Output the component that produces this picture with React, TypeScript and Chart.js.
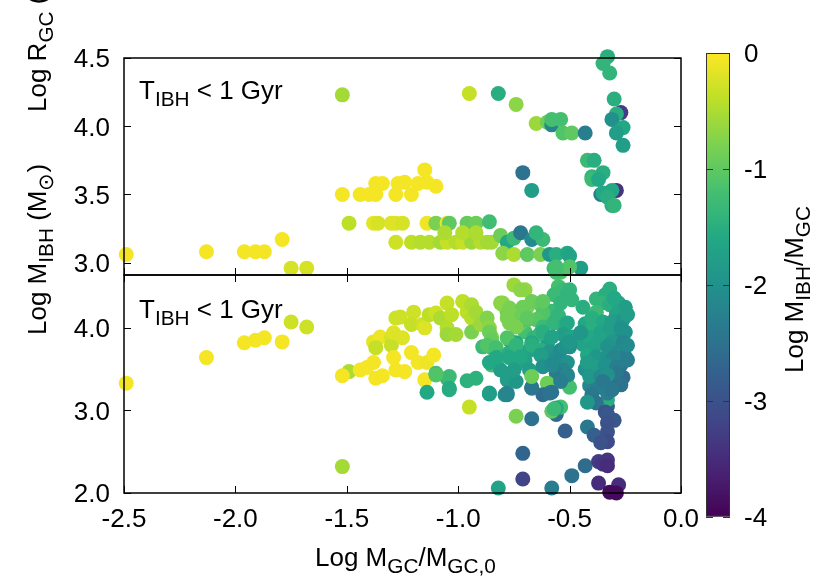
import { useEffect, useRef } from "react";
import { Chart, registerables } from "chart.js";
Chart.register(...registerables);

// ---------- data ----------
const xTicks = [-2.5, -2.0, -1.5, -1.0, -0.5, 0.0];
const topYTicks = [3.0, 3.5, 4.0, 4.5];
const botYTicks = [2.0, 3.0, 4.0];
const cbTicks = [0, -1, -2, -3, -4];

const topX = [
  -2.49,-2.13,-1.96,-1.91,-1.87,-1.79,-1.75,-1.68,-1.52,-1.52,
  -1.49,-1.44,-1.40,-1.37,-1.37,-1.34,-1.38,-1.36,-1.30,-1.28,
  -1.25,-1.28,-1.28,-1.27,-1.24,-1.21,-1.18,-1.15,-1.14,-1.10,
  -1.14,-1.10,-1.05,-1.04,-0.96,-0.92,-0.86,-1.21,-1.17,-1.13,
  -1.08,-1.05,-1.01,-0.98,-0.94,-0.90,-0.87,-0.85,-0.81,-0.78,
  -0.80,-0.95,-0.82,-0.74,-0.65,-0.60,-0.58,-0.58,-0.54,-0.53,
  -0.49,-0.43,-0.71,-0.67,-0.33,-0.35,-0.32,-0.30,-0.27,-0.29,
  -0.31,-0.26,-0.29,-0.26,-0.42,-0.39,-0.40,-0.35,-0.40,-0.37,
  -0.29,-0.31,-0.36,-0.35,-0.33,-0.31,-0.30,-0.75,-0.72,-0.67,
  -0.62,-0.65,-0.75,-0.69,-0.63,-0.59,-0.56,-0.51,-0.50,-0.45,
  -0.57,-0.54,-0.50,-0.56,-1.06,-0.98,-0.92,
];
const topY = [
  3.06,3.08,3.08,3.08,3.08,3.17,2.96,2.96,4.23,3.50,
  3.29,3.50,3.50,3.50,3.58,3.58,3.29,3.29,3.29,3.29,
  3.29,3.15,3.50,3.58,3.59,3.50,3.58,3.68,3.59,3.56,
  3.29,3.29,3.29,3.29,3.29,3.29,3.30,3.15,3.15,3.15,
  3.15,3.15,3.15,3.15,3.15,3.15,3.15,3.15,3.20,3.15,
  3.07,4.24,4.24,4.16,4.02,4.03,4.01,4.05,4.05,3.95,
  3.95,3.95,3.66,3.53,4.51,4.46,4.39,4.20,4.10,4.09,
  4.05,3.99,3.95,3.86,3.75,3.75,3.63,3.66,3.61,3.61,
  3.53,3.53,3.50,3.51,3.48,3.42,3.42,3.18,3.22,3.17,
  3.17,3.22,3.06,3.06,3.06,3.06,3.06,3.07,3.05,2.96,
  2.96,2.93,2.97,2.97,3.22,3.22,3.22,
];
const topC = [
  -0.05,-0.05,-0.05,-0.05,-0.05,-0.05,-0.25,-0.25,-0.55,-0.05,
  -0.4,-0.05,-0.05,-0.05,-0.05,-0.05,-0.15,-0.25,-0.2,-0.2,
  -0.25,-0.3,-0.05,-0.05,-0.05,-0.05,-0.05,-0.05,-0.05,-0.05,
  -0.1,-0.8,-0.1,-1.0,-0.95,-0.9,-1.25,-0.4,-0.45,-0.45,
  -0.55,-0.35,-0.45,-0.35,-0.6,-0.45,-0.55,-0.55,-0.9,-1.6,
  -0.7,-0.35,-1.5,-0.7,-0.6,-0.9,-2.2,-1.2,-1.2,-1.1,
  -1.0,-2.3,-2.5,-1.8,-1.5,-1.4,-1.4,-1.5,-3.3,-1.5,
  -2.0,-1.6,-1.8,-1.8,-1.3,-1.5,-1.4,-1.5,-1.3,-1.6,
  -3.4,-1.6,-2.3,-1.6,-1.5,-1.5,-1.4,-1.3,-2.4,-2.1,
  -1.3,-1.4,-0.5,-1.0,-0.8,-1.9,-1.5,-1.6,-1.7,-1.8,
  -1.3,-1.1,-1.1,-1.2,-0.5,-0.45,-0.5,
];

const botX = [
  -0.44,-0.43,-0.44,-0.43,-0.41,-0.27,-0.27,-0.26,-0.30,-0.38,
  -0.34,-0.38,-0.33,-0.70,-0.66,-0.72,-0.60,-0.58,-0.55,-0.60,
  -0.70,
  -2.49,-2.13,-1.96,-1.91,-1.87,-1.79,-1.75,-1.68,-1.52,-1.49,
  -1.52,-1.44,-1.41,-1.38,-1.37,-1.34,-1.38,-1.35,-1.37,-1.30,
  -1.30,-1.29,-1.25,-1.28,-1.26,-1.29,-1.28,-1.24,-1.21,-1.18,
  -1.14,-1.11,-1.15,-1.20,-1.21,-1.16,-1.15,-1.13,-1.10,-1.08,
  -1.05,-1.05,-1.03,-1.05,-1.01,-0.98,-0.96,-0.94,-0.94,-0.92,
  -0.94,-0.90,-0.87,-0.86,-0.85,-0.89,-0.85,-0.85,-0.80,-0.78,
  -1.10,-1.05,-1.04,-1.14,-0.96,-0.92,-0.86,-0.79,-0.95,-0.75,
  -0.70,-0.72,-0.56,-0.55,-0.53,-0.50,-0.57,-0.54,-0.51,-0.49,
  -0.32,-0.81,-0.77,-0.74,-0.69,-0.67,-0.63,-0.62,-0.65,-0.69,
  -0.77,-0.74,-0.62,-0.63,-0.57,-0.52,-0.51,-0.53,-0.49,-0.45,
  -0.86,-0.85,-0.87,-0.83,-0.81,-0.77,-0.74,-0.77,-0.72,-0.68,
  -0.67,-0.63,-0.60,-0.59,-0.56,-0.54,-0.52,-0.50,-0.56,-0.51,
  -0.53,-0.51,-0.56,-0.54,-0.50,-0.60,-0.58,-0.62,-0.67,-0.77,
  -0.74,-0.81,-0.78,-0.86,-0.83,-0.78,-0.86,-1.04,-1.04,-1.10,
  -0.74,-0.67,-0.56,-0.58,-0.54,-0.52,-0.71,-0.71,-0.82,-0.58,
  -0.49,-0.43,-0.42,-0.39,-0.36,-0.32,-0.28,-0.25,-0.38,-0.29,
  -0.40,-0.35,-0.31,-0.26,-0.40,-0.36,-0.32,-0.27,-0.25,-0.41,
  -0.36,-0.31,-0.26,-0.39,-0.33,-0.28,-0.25,-0.42,-0.38,-0.33,
  -0.30,-0.42,-0.38,-0.34,-0.29,-0.29,-0.41,-0.36,-0.33,-0.27,
  -0.31,-0.36,-0.35,-0.40,-0.33,-0.38,-0.34,-0.45,-0.80,-0.77,
  -0.71,-0.62,-0.69,-0.78,-0.62,-0.58,-0.50,-0.78,-0.74,-0.67,
  -0.63,-0.72,-0.77,-0.78,-0.74,-0.68,-0.62,-0.58,-0.51,-0.54,
  -0.67,-0.59,-0.67,-0.78,-0.56,-0.57,-0.42,-0.33,-0.30,-0.33,
  -0.33,-0.33,-0.37,-0.35,-0.33,-0.33,-0.37,-0.28,-0.32,-0.29,
  -0.33,-0.31,-0.30,-0.24,-0.24,-0.24,-0.36,-0.75,
];
const botY = [
  4.25,4.05,3.80,3.50,3.30,3.90,3.55,3.40,3.35,4.35,
  4.40,3.35,3.05,3.95,3.88,4.05,4.15,4.20,4.15,3.80,
  3.60,
  3.33,3.64,3.82,3.85,3.88,3.83,4.07,4.01,2.32,3.47,
  3.42,3.49,3.52,3.58,3.39,3.42,3.83,3.89,3.76,3.88,
  3.79,3.94,3.88,4.12,4.13,3.64,3.49,3.47,3.70,3.58,
  3.58,3.67,3.37,4.19,4.04,4.04,4.00,4.16,4.18,4.12,
  4.00,4.30,4.16,3.92,3.92,4.32,4.19,4.28,4.12,4.19,
  3.95,4.04,4.12,4.00,3.89,3.77,3.76,3.55,4.28,4.19,
  3.45,3.39,3.25,3.22,3.36,3.39,3.21,3.19,3.04,4.52,
  4.46,4.46,4.67,4.50,4.46,4.46,4.40,4.30,4.42,4.34,
  4.47,4.30,4.18,4.12,4.25,4.32,4.28,4.18,4.10,4.10,
  4.06,4.01,4.01,3.94,4.06,4.04,4.06,3.92,3.89,3.94,
  3.95,3.85,3.79,3.76,3.65,3.85,3.82,3.70,3.70,3.73,
  3.82,3.73,3.61,3.71,3.65,3.73,3.77,3.77,3.58,3.58,
  3.49,3.41,3.45,3.37,3.28,3.33,3.22,3.19,3.28,3.41,
  3.55,3.49,3.37,3.58,3.64,3.19,3.20,3.41,3.27,3.43,
  2.93,2.90,2.95,2.99,3.04,2.75,2.48,2.17,2.06,2.06,
  2.21,2.33,2.80,2.70,4.30,4.28,4.30,4.25,4.19,4.16,
  4.12,4.07,4.07,4.10,3.98,3.95,3.98,4.00,3.95,3.88,
  3.88,3.83,3.82,3.77,3.77,3.71,3.65,3.67,3.65,3.64,
  3.64,3.58,3.53,3.55,3.52,3.45,3.41,3.41,3.43,3.31,
  3.25,3.28,3.35,3.19,3.13,3.09,2.98,3.94,4.30,4.24,
  4.25,4.32,4.12,4.12,3.95,3.89,3.83,3.88,3.79,3.79,
  3.67,3.65,3.64,3.43,3.35,3.49,3.53,3.55,3.43,3.35,
  3.27,3.21,3.41,3.21,3.03,3.02,3.10,2.95,2.88,2.85,
  2.74,2.62,2.38,2.35,2.40,2.33,2.12,2.10,2.01,2.00,
  3.21,3.25,4.36,4.16,3.79,3.61,2.61,3.49,
];
const botC = [
  -1.5,-1.6,-1.7,-2.0,-2.2,-2.1,-2.4,-2.6,-2.5,-1.4,
  -1.5,-2.3,-2.8,-1.2,-1.4,-1.0,-1.2,-1.3,-1.4,-1.8,
  -1.7,
  -0.05,-0.05,-0.05,-0.05,-0.05,-0.05,-0.3,-0.3,-0.55,-0.5,
  -0.05,-0.05,-0.05,-0.05,-0.05,-0.05,-0.15,-0.1,-0.35,-0.25,
  -0.35,-0.2,-0.2,-0.3,-0.3,-0.05,-0.05,-0.05,-0.05,-0.05,
  -0.1,-0.05,-0.05,-0.3,-0.35,-0.3,-0.2,-0.4,-0.3,-0.5,
  -0.45,-0.35,-0.4,-0.6,-0.55,-0.4,-0.4,-0.5,-0.45,-0.55,
  -0.8,-0.6,-0.75,-0.7,-0.75,-1.3,-1.3,-1.2,-0.8,-0.9,
  -1.25,-1.35,-1.5,-1.6,-1.45,-1.45,-1.75,-2.0,-0.35,-0.6,
  -0.65,-0.7,-1.2,-1.2,-1.3,-1.4,-1.3,-1.4,-1.4,-1.4,
  -1.5,-0.7,-0.75,-0.9,-0.8,-0.9,-0.95,-1.1,-1.05,-1.1,
  -0.8,-0.8,-1.3,-1.35,-1.4,-1.5,-1.6,-1.8,-1.7,-1.9,
  -0.9,-0.95,-1.1,-1.2,-1.3,-1.5,-1.6,-1.5,-1.6,-1.7,
  -1.6,-1.5,-1.9,-1.9,-2.0,-2.1,-2.0,-2.0,-2.1,-2.0,
  -2.2,-2.3,-2.3,-2.4,-1.2,-0.9,-2.5,-2.6,-2.5,-1.7,
  -1.7,-1.8,-1.8,-1.6,-1.6,-2.2,-1.8,-1.3,-1.55,-1.1,
  -0.8,-2.5,-2.6,-1.0,-1.2,-2.8,-2.7,-3.2,-1.7,-2.3,
  -2.5,-2.6,-2.4,-2.8,-1.4,-1.5,-1.6,-1.8,-1.3,-1.7,
  -1.5,-1.6,-1.8,-1.9,-1.5,-1.7,-1.8,-2.0,-2.0,-1.6,
  -1.7,-1.9,-2.2,-1.7,-2.0,-2.1,-2.3,-1.6,-1.9,-2.0,
  -2.2,-1.8,-1.8,-2.0,-2.3,-2.4,-1.9,-2.1,-2.0,-2.5,
  -2.6,-2.3,-2.4,-2.4,-1.5,-2.5,-3.0,-1.9,-0.7,-0.8,
  -0.9,-1.0,-1.0,-0.8,-1.5,-1.7,-1.9,-1.1,-1.4,-1.5,
  -1.8,-1.6,-1.6,-1.8,-1.9,-1.8,-2.0,-2.1,-2.2,-2.3,
  -2.4,-2.5,-0.9,-2.2,-1.6,-1.3,-1.9,-2.9,-2.9,-3.0,
  -3.0,-3.1,-3.3,-3.4,-3.4,-3.5,-3.5,-3.5,-3.9,-3.9,
  -2.3,-2.4,-1.6,-1.8,-2.1,-2.3,-3.0,-1.8,
];

// ---------- styling helpers ----------
const FONT = '"Liberation Sans", Arial, Helvetica, sans-serif';
const FS = 26;
const W = 830;
const H = 581;

const VIRIDIS = [
  "#440154", "#482475", "#414487", "#355f8d", "#2a788e", "#21918c",
  "#22a884", "#44bf70", "#7ad151", "#bddf26", "#fde725",
];
function hexToRgb(h: string) {
  return [parseInt(h.slice(1, 3), 16), parseInt(h.slice(3, 5), 16), parseInt(h.slice(5, 7), 16)];
}
function viridis(t: number) {
  const tt = Math.max(0, Math.min(1, t));
  const p = tt * 10;
  const i = Math.min(9, Math.floor(p));
  const f = p - i;
  const a = hexToRgb(VIRIDIS[i]);
  const b = hexToRgb(VIRIDIS[i + 1]);
  const c = a.map((v, k) => Math.round(v + (b[k] - v) * f));
  return `rgb(${c[0]},${c[1]},${c[2]})`;
}
const CMIN = -4;
const CMAX = 0;
const colorOf = (c: number) => viridis((c - CMIN) / (CMAX - CMIN));

type Seg = [string, boolean];
function drawRich(ctx: CanvasRenderingContext2D, segs: Seg[], x: number, y: number) {
  let cx = x;
  ctx.textAlign = "left";
  ctx.textBaseline = "alphabetic";
  for (const [t, sub] of segs) {
    ctx.font = `${sub ? FS * 0.8 : FS}px ${FONT}`;
    ctx.fillText(t, cx, sub ? y + FS * 0.28 : y);
    cx += ctx.measureText(t).width;
  }
}
function drawRichRot(ctx: CanvasRenderingContext2D, segs: Seg[], x: number, y: number) {
  ctx.save();
  ctx.translate(x, y);
  ctx.rotate(-Math.PI / 2);
  drawRich(ctx, segs, 0, 0);
  ctx.restore();
}

const TICK = 7;

function panelPlugin(isBottom: boolean, yTicks: number[]) {
  return {
    id: "panel" + (isBottom ? "B" : "T"),
    afterDatasetsDraw(chart: any) {
      const ctx: CanvasRenderingContext2D = chart.ctx;
      const { left, top, right, bottom } = chart.chartArea;
      const xs = chart.scales.x;
      const ys = chart.scales.y;
      ctx.save();
      ctx.strokeStyle = "#000";
      ctx.lineWidth = 1;
      ctx.beginPath();
      for (const v of xTicks) {
        const px = Math.round(xs.getPixelForValue(v)) + 0.5;
        ctx.moveTo(px, bottom);
        ctx.lineTo(px, bottom - TICK);
        if (isBottom) {
          ctx.moveTo(px, top);
          ctx.lineTo(px, top + TICK);
        }
      }
      for (const v of yTicks) {
        const py = Math.round(ys.getPixelForValue(v)) + 0.5;
        ctx.moveTo(left, py);
        ctx.lineTo(left + TICK, py);
        ctx.moveTo(right, py);
        ctx.lineTo(right - TICK, py);
      }
      ctx.stroke();
      ctx.lineWidth = 1.5;
      ctx.strokeRect(left, top, right - left, bottom - top);

      ctx.fillStyle = "#000";
      ctx.font = `${FS}px ${FONT}`;
      ctx.textAlign = "right";
      ctx.textBaseline = "alphabetic";
      for (const v of yTicks) {
        const py = ys.getPixelForValue(v);
        ctx.fillText(v.toFixed(1), left - 14, py + 9.3);
      }
      if (isBottom) {
        ctx.textAlign = "center";
        for (const v of xTicks) {
          const px = xs.getPixelForValue(v);
          ctx.fillText(v.toFixed(1), px, bottom + 34);
        }
      }
      // panel annotation
      drawRich(ctx, [["T", false], ["IBH", true], [" < 1 Gyr", false]], left + 15, top + (isBottom ? 43 : 41));

      if (isBottom) {
        // axis titles
        drawRich(ctx, [["Log M", false], ["GC", true], ["/M", false], ["GC,0", true]], 315, 566);
        drawRichRot(ctx, [["Log M", false], ["IBH", true], [" (M", false], ["\u2299", true], [")", false]], 46, 335);
        drawRichRot(ctx, [["Log R", false], ["GC", true], [" (kpc)", false]], 46, 112);

        // colour bar
        const cbL = 706, cbR = 730, cbT = 53, cbB = 516.5;
        const cy = (c: number) => cbT + ((CMAX - c) / (CMAX - CMIN)) * (cbB - cbT);
        const g = ctx.createLinearGradient(0, cbB, 0, cbT);
        for (let i = 0; i <= 40; i++) {
          g.addColorStop(i / 40, viridis(i / 40));
        }
        ctx.fillStyle = g;
        ctx.fillRect(cbL, cbT, cbR - cbL, cbB - cbT);
        ctx.strokeStyle = "#333";
        ctx.lineWidth = 1;
        ctx.strokeRect(cbL + 0.5, cbT + 0.5, cbR - cbL - 1, cbB - cbT - 1);
        ctx.beginPath();
        for (const v of cbTicks) {
          const py = Math.round(cy(v)) + 0.5;
          ctx.moveTo(cbL, py);
          ctx.lineTo(cbL + TICK, py);
          ctx.moveTo(cbR, py);
          ctx.lineTo(cbR - TICK, py);
        }
        ctx.stroke();
        ctx.fillStyle = "#000";
        ctx.font = `${FS}px ${FONT}`;
        ctx.textAlign = "left";
        for (const v of cbTicks) {
          ctx.fillText(String(v), 744, cy(v) + 9.3);
        }
        drawRichRot(ctx, [["Log M", false], ["IBH", true], ["/M", false], ["GC", true]], 803, 373);
      }
      ctx.restore();
    },
  };
}

function makeConfig(xs: number[], ys: number[], cs: number[], yMin: number, yMax: number, yTicks: number[], pad: any, isBottom: boolean) {
  return {
    type: "scatter" as const,
    data: {
      datasets: [
        {
          data: xs.map((x, i) => ({ x, y: ys[i] })),
          backgroundColor: cs.map(colorOf),
          pointRadius: 7.5,
          pointHoverRadius: 7.5,
          pointBorderWidth: 0,
          borderWidth: 0,
          clip: false as any,
        },
      ],
    },
    options: {
      responsive: false,
      animation: false as const,
      devicePixelRatio: 1,
      events: [] as any[],
      layout: { padding: pad },
      plugins: { legend: { display: false }, tooltip: { enabled: false } },
      scales: {
        x: { type: "linear" as const, min: -2.5, max: 0, display: false },
        y: { type: "linear" as const, min: yMin, max: yMax, display: false },
      },
    },
    plugins: [panelPlugin(isBottom, yTicks)],
  };
}

export default function App() {
  const topRef = useRef<HTMLCanvasElement>(null);
  const botRef = useRef<HTMLCanvasElement>(null);
  useEffect(() => {
    const c1 = new Chart(
      topRef.current!,
      makeConfig(topX, topY, topC, 2.91, 4.5, topYTicks, { left: 124, top: 58, right: W - 681, bottom: H - 275 }, false) as any
    );
    const c2 = new Chart(
      botRef.current!,
      makeConfig(botX, botY, botC, 2.0, 4.64, botYTicks, { left: 124, top: 275, right: W - 681, bottom: H - 493 }, true) as any
    );
    return () => {
      c1.destroy();
      c2.destroy();
    };
  }, []);
  return (
    <div style={{ position: "absolute", left: 0, top: 0, width: W, height: H, background: "#fff", overflow: "hidden" }}>
      <canvas ref={topRef} width={W} height={H} style={{ position: "absolute", left: 0, top: 0 }} />
      <canvas ref={botRef} width={W} height={H} style={{ position: "absolute", left: 0, top: 0 }} />
    </div>
  );
}
